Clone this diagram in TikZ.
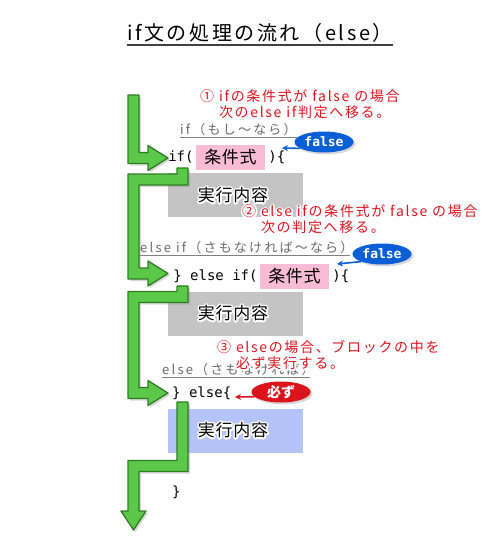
\documentclass[tikz,border=0pt]{standalone}
\usepackage{fontspec}
\setmainfont{Noto Sans CJK JP}
\newfontfamily\codefont{DejaVu Sans Mono}
\usetikzlibrary{shapes.geometric,shadows,arrows.meta}

\definecolor{arrowgreen}{HTML}{5CC84A}
\definecolor{arrowdark}{HTML}{2E7D23}
\definecolor{condpink}{HTML}{F8BCD4}
\definecolor{blockgrey}{HTML}{C4C4C4}
\definecolor{blockblue}{HTML}{B4C4F8}
\definecolor{bubbleblue}{HTML}{0A5FD6}
\definecolor{bubblered}{HTML}{D9141A}
\definecolor{notered}{HTML}{E0141E}
\definecolor{labelgrey}{HTML}{6A6A6A}

\tikzset{
  flowarrow/.style={fill=arrowgreen, draw=arrowdark, line width=1.3pt, line join=round,
    drop shadow={opacity=0.3, shadow xshift=2pt, shadow yshift=-2pt}},
  codetext/.style={font=\codefont\fontsize{14}{16}\selectfont, inner sep=0pt},
  condbox/.style={fill=condpink, minimum width=69pt, minimum height=25pt, inner sep=0pt,
    font=\fontsize{17}{19}\selectfont\addfontfeatures{LetterSpace=4}},
  blockbox/.style={minimum width=135pt, minimum height=44pt, inner sep=0pt},
  blocktext/.style={font=\fontsize{17}{19}\selectfont\addfontfeatures{LetterSpace=4}, inner sep=0pt},
  syntaxlabel/.style={text=labelgrey, font=\fontsize{13}{15}\selectfont\addfontfeatures{LetterSpace=17},
    inner sep=0pt, anchor=west},
  syntaxline/.style={draw=labelgrey!85, line width=0.9pt},
  notetext/.style={text=notered, font=\fontsize{14}{16}\selectfont\addfontfeatures{LetterSpace=12},
    align=left, inner sep=0pt, anchor=west},
  bubble/.style={ellipse, minimum width=59pt, minimum height=21pt, inner sep=0pt, text=white,
    drop shadow={opacity=0.3, shadow xshift=2pt, shadow yshift=-2pt}},
  pointer/.style={line width=1.6pt, -{Stealth[length=6pt,width=6pt]}},
}

% white outline behind a text: stroked copy first, then the text itself
\newcommand{\strokeon}{\special{pdf:code q 1 Tr 3.5 w 1 j 1 1 1 RG}}
\newcommand{\strokeoff}{\special{pdf:code Q}}
\newcommand{\halonode}[4]{%
  \node[#1, text=white] at (#3) {\strokeon#4\strokeoff};
  \node[#1] (#2) at (#3) {#4};}

\begin{document}
\begin{tikzpicture}[x=1pt,y=-1pt]
\useasboundingbox[fill=white] (0,0) rectangle (500,554);

% title
\node[font=\fontsize{20}{22}\selectfont\addfontfeatures{LetterSpace=13}, inner sep=0pt, anchor=west]
  (title) at (127,33) {if文の処理の流れ（else）};
\draw[line width=1.6pt, black!75] (127,45) -- (393,45);

% blocks
\node[blockbox, fill=blockgrey] (block1) at (235.5,195) {};
\node[blockbox, fill=blockgrey] (block2) at (235.5,313.5) {};
\node[blockbox, fill=blockblue] (block3) at (235.5,431) {};
\halonode{blocktext}{exec1}{233,195}{実行内容}
\halonode{blocktext}{exec2}{233,313}{実行内容}
\halonode{blocktext}{exec3}{233,430}{実行内容}

% syntax labels
\node[syntaxlabel] (lblif) at (180,130) {if（もし～なら）};
\draw[syntaxline] (180,137) -- (297,137);
\node[syntaxlabel] (lblelif) at (140,248) {else if（さもなければ～なら）};
\draw[syntaxline] (140,255) -- (350,255);
\node[syntaxlabel] (lblelse) at (162,370) {else（さもなければ）};
\draw[syntaxline] (162,377) -- (310,377);

% code lines
\node[condbox] (cond1) at (230.5,157) {条件式};
\node[codetext, anchor=east] (ifkw) at ([xshift=-2pt]cond1.west) {if(};
\node[codetext, anchor=west] (ifend) at ([xshift=3pt]cond1.east) {)\{};
\node[condbox] (cond2) at (294.5,276.5) {条件式};
\node[codetext, anchor=east] (elifkw) at ([xshift=-2pt]cond2.west) {\} else if(};
\node[codetext, anchor=west] (elifend) at ([xshift=3pt]cond2.east) {)\{};
\node[codetext, anchor=west] (elsekw) at (172,393) {\} else\{};
\node[codetext, anchor=west] (closing) at (172,492) {\}};

% green flow arrows
\draw[flowarrow] (128,95) -- (139,95) -- (139,152.5) -- (148,152.5) -- (148,145.5)
  -- (168,158) -- (148,170.5) -- (148,163.5) -- (128,163.5) -- cycle;
\draw[flowarrow] (177,168) -- (188,168) -- (188,185) -- (139,185) -- (139,268) -- (148,268)
  -- (148,261) -- (168,273.5) -- (148,286) -- (148,279) -- (128,279) -- (128,174) -- (177,174) -- cycle;
\draw[flowarrow] (177,286) -- (188,286) -- (188,302.5) -- (139,302.5) -- (139,387.5) -- (148,387.5)
  -- (148,380.5) -- (168,393) -- (148,405.5) -- (148,398.5) -- (128,398.5) -- (128,291.5) -- (177,291.5) -- cycle;
\draw[flowarrow] (177,402) -- (188,402) -- (188,471.5) -- (139,471.5) -- (139,511) -- (146,511)
  -- (133.5,530) -- (121,511) -- (128,511) -- (128,460.5) -- (177,460.5) -- cycle;

% red notes
\halonode{notetext}{note1}{200,104}{① ifの条件式が false の場合\\\phantom{① }次のelse if判定へ移る。}
\halonode{notetext}{note2}{242,219.5}{② else ifの条件式が false の場合\\\phantom{② }次の判定へ移る。}
\halonode{notetext}{note3}{217,355}{③ elseの場合、ブロックの中を\\\phantom{③ }必ず実行する。}

% bubbles
\coordinate (tip1) at (282,148);
\coordinate (tip2) at (337,264);
\coordinate (tip3) at (235,397);
\node[bubble, fill=bubbleblue, font=\codefont\bfseries\fontsize{13}{15}\selectfont] (false1) at (324,142) {false};
\node[bubble, fill=bubbleblue, font=\codefont\bfseries\fontsize{13}{15}\selectfont] (false2) at (382,254) {false};
\node[bubble, fill=bubblered, font=\bfseries\fontsize{14}{16}\selectfont] (always) at (281,392) {必ず};
\draw[pointer, bubbleblue] (false1.195) -- (tip1);
\draw[pointer, bubbleblue] (false2.200) -- (tip2);
\draw[pointer, bubblered] (always.190) -- (tip3);
\end{tikzpicture}
\end{document}
